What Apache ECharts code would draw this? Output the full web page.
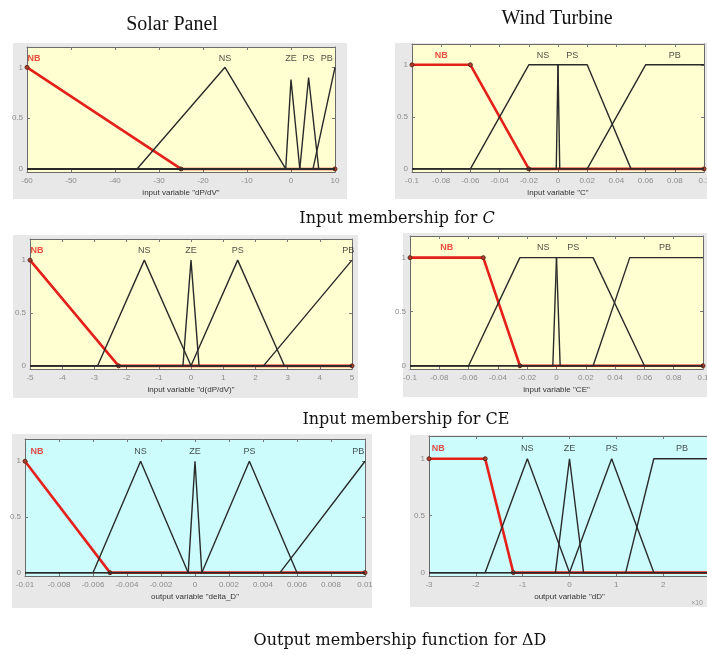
<!DOCTYPE html>
<html><head><meta charset="utf-8">
<script src="https://cdn.jsdelivr.net/npm/echarts@6/dist/echarts.min.js"></script>
<style>html,body{margin:0;padding:0;background:#fff}#c{width:707px;height:655px}</style>
</head><body><div id="c"></div>
<script>
// ---- Panel 1: Solar Panel, input "dP/dV"
const mfNames = ['NB','NS','ZE','PS','PB'];
const solarC_NB = [[-60,1],[-25,0],[10,0]];
const solarC_NS = [[-60,0],[-35,0],[-15,1],[-1.2,0],[10,0]];
const solarC_ZE = [[-60,0],[-1.2,0],[0,0.88],[2,0],[10,0]];
const solarC_PS = [[-60,0],[2,0],[4,0.9],[6.3,0],[10,0]];
const solarC_PB = [[-60,0],[5,0],[10,1]];
const solarC_labelX = [-58.4,-15,0,4,8.1];
// ---- Panel 2: Wind Turbine, input "C"
const windC_NB = [[-0.1,1],[-0.06,1],[-0.02,0],[0.1,0]];
const windC_NS = [[-0.1,0],[-0.06,0],[-0.02,1],[0,1],[0.0012,0],[0.1,0]];
const windC_PS = [[-0.1,0],[-0.0012,0],[0,1],[0.02,1],[0.05,0],[0.1,0]];
const windC_PB = [[-0.1,0],[0.02,0],[0.06,1],[0.1,1]];
const windC_labelNames = ['NB','NS','PS','PB'];
const windC_labelX = [-0.08,-0.0103,0.0098,0.08];
// ---- Panel 3: Solar Panel, input "d(dP/dV)"
const solarCE_NB = [[-5,1],[-2.25,0],[5,0]];
const solarCE_NS = [[-5,0],[-2.9,0],[-1.45,1],[0,0],[5,0]];
const solarCE_ZE = [[-5,0],[-0.25,0],[0,1],[0.25,0],[5,0]];
const solarCE_PS = [[-5,0],[0,0],[1.45,1],[2.9,0],[5,0]];
const solarCE_PB = [[-5,0],[2.25,0],[5,1]];
const solarCE_labelX = [-4.78,-1.45,0,1.45,4.88];
// ---- Panel 4: Wind Turbine, input "CE"
const windCE_NB = [[-0.1,1],[-0.05,1],[-0.025,0],[0.1,0]];
const windCE_NS = [[-0.1,0],[-0.06,0],[-0.025,1],[0,1],[0.0025,0],[0.1,0]];
const windCE_PS = [[-0.1,0],[-0.0025,0],[0,1],[0.025,1],[0.06,0],[0.1,0]];
const windCE_PB = [[-0.1,0],[0.025,0],[0.05,1],[0.1,1]];
const windCE_labelX = [-0.075,-0.009,0.0115,0.074];
// ---- Panel 5: Solar Panel, output "delta_D"
const solarD_NB = [[-0.01,1],[-0.005,0],[0.01,0]];
const solarD_NS = [[-0.01,0],[-0.006,0],[-0.0032,1],[-0.0004,0],[0.01,0]];
const solarD_ZE = [[-0.01,0],[-0.0004,0],[0,1],[0.0004,0],[0.01,0]];
const solarD_PS = [[-0.01,0],[0.0004,0],[0.0032,1],[0.006,0],[0.01,0]];
const solarD_PB = [[-0.01,0],[0.005,0],[0.01,1]];
const solarD_labelX = [-0.0093,-0.0032,0,0.0032,0.0096];
// ---- Panel 6: Wind Turbine, output "dD" (x10^-?)
const windD_NB = [[-3,1],[-1.8,1],[-1.2,0],[3,0]];
const windD_NS = [[-3,0],[-1.8,0],[-0.9,1],[0,0],[3,0]];
const windD_ZE = [[-3,0],[-0.3,0],[0,1],[0.3,0],[3,0]];
const windD_PS = [[-3,0],[0,0],[0.9,1],[1.8,0],[3,0]];
const windD_PB = [[-3,0],[1.2,0],[1.8,1],[3,1]];
const windD_labelX = [-2.8,-0.9,0,0.9,2.4];

const yTickValues = [0,0.5,1];
const labelY = 1.09;

const panels = [
  {grid:{left:27,top:47,width:308,height:125}, box:[13,43,334,156], bg:'#ffffd2',
   xmin:-60,xmax:10,interval:10,name:'input variable "dP/dV"', showMax:true,
   red:solarC_NB, black:[solarC_NS,solarC_ZE,solarC_PS,solarC_PB], names:mfNames, lx:solarC_labelX},
  {grid:{left:412,top:44,width:292,height:128}, box:[395,43,312,156], bg:'#ffffd2',
   xmin:-0.1,xmax:0.1,interval:0.02,name:'input variable "C"', showMax:true,
   red:windC_NB, black:[windC_NS,windC_PS,windC_PB], names:windC_labelNames, lx:windC_labelX},
  {grid:{left:30,top:239,width:322,height:130}, box:[13,235,345,163], bg:'#ffffd2',
   xmin:-5,xmax:5,interval:1,name:'input variable "d(dP/dV)"', showMax:true,
   red:solarCE_NB, black:[solarCE_NS,solarCE_ZE,solarCE_PS,solarCE_PB], names:mfNames, lx:solarCE_labelX},
  {grid:{left:410,top:236,width:293,height:133}, box:[403,233,304,164], bg:'#ffffd2',
   xmin:-0.1,xmax:0.1,interval:0.02,name:'input variable "CE"', showMax:true,
   red:windCE_NB, black:[windCE_NS,windCE_PS,windCE_PB], names:windC_labelNames, lx:windCE_labelX},
  {grid:{left:25,top:439,width:340,height:137}, box:[12,434,360,174], bg:'#ccfcfc',
   xmin:-0.01,xmax:0.01,interval:0.002,name:'output variable "delta_D"', showMax:true,
   red:solarD_NB, black:[solarD_NS,solarD_ZE,solarD_PS,solarD_PB], names:mfNames, lx:solarD_labelX},
  {grid:{left:429,top:436,width:281,height:140}, box:[410,435,297,172], bg:'#ccfcfc',
   xmin:-3,xmax:3,interval:1,name:'output variable "dD"', showMax:false,
   red:windD_NB, black:[windD_NS,windD_ZE,windD_PS,windD_PB], names:mfNames, lx:windD_labelX}
];

const fmt = v => { const s = parseFloat(Number(v).toFixed(4)); return String(s === 0 ? 0 : s); };
const tickStyle = {show:true, inside:true, length:3, lineStyle:{color:'#777', width:1}};
const axisLineStyle = {show:true, onZero:false, lineStyle:{color:'#6a6a6a',width:1}};
const grids=[], xAxes=[], yAxes=[], series=[], graphics=[];
panels.forEach((p,i)=>{
  grids.push(Object.assign({show:true, backgroundColor:p.bg, borderWidth:0, outerBoundsMode:'none', containLabel:false}, p.grid));
  graphics.push({type:'rect', z:-10, shape:{x:p.box[0],y:p.box[1],width:p.box[2],height:p.box[3]}, style:{fill:'#e8e8e8'}});
  xAxes.push({type:'value', gridIndex:i, min:p.xmin, max:p.xmax, interval:p.interval, position:'bottom',
    axisLine:axisLineStyle, axisTick:tickStyle, splitLine:{show:false},
    axisLabel:{color:'#8c8c8c', fontSize:8, margin:5, fontFamily:'Liberation Sans', formatter:fmt, showMinLabel:true, showMaxLabel:p.showMax, hideOverlap:false},
    name:p.name, nameLocation:'middle', nameGap:17, nameTextStyle:{color:'#333', fontSize:8, fontFamily:'Liberation Sans'}});
  xAxes.push({type:'value', gridIndex:i, min:p.xmin, max:p.xmax, interval:p.interval, position:'top',
    axisLine:axisLineStyle, axisTick:tickStyle, axisLabel:{show:false}, splitLine:{show:false}});
  yAxes.push({type:'value', gridIndex:i, min:-0.03, max:1.2, position:'left',
    axisLine:axisLineStyle,
    axisTick:Object.assign({customValues:yTickValues}, tickStyle),
    axisLabel:{customValues:yTickValues, color:'#8c8c8c', fontSize:8, margin:4, fontFamily:'Liberation Sans', formatter:fmt},
    splitLine:{show:false}});
  yAxes.push({type:'value', gridIndex:i, min:-0.03, max:1.2, position:'right',
    axisLine:axisLineStyle,
    axisTick:Object.assign({customValues:yTickValues}, tickStyle), axisLabel:{show:false}, splitLine:{show:false}});
  // red (selected) MF underneath
  series.push({type:'line', xAxisIndex:2*i, yAxisIndex:2*i, data:p.red, z:2, silent:true,
    lineStyle:{color:'#e3201a', width:2.6}, symbol:'circle', symbolSize:4,
    itemStyle:{color:'#b83a2a', borderColor:'#5a2a1a', borderWidth:1}, animation:false});
  p.black.forEach(d=>{
    series.push({type:'line', xAxisIndex:2*i, yAxisIndex:2*i, data:d, z:3, silent:true, symbol:'none',
      lineStyle:{color:'#2a2a2a', width:1.4}, animation:false});
  });
  // MF name labels
  series.push({type:'scatter', xAxisIndex:2*i, yAxisIndex:2*i, symbolSize:0, silent:true, z:4, animation:false,
    data:p.names.map((n,k)=>({name:n, value:[p.lx[k], labelY],
      label:{color: k===0 ? '#e3201a' : '#222', fontWeight: k===0 ? 'bold' : 'normal'}})),
    label:{show:true, position:'inside', formatter:'{b}', fontSize:9, fontFamily:'Liberation Sans'}});
});

const serif = 'Liberation Serif, serif';
const capSerif = 'DejaVu Serif, serif';
graphics.push({type:'text', x:172, y:25, z:5, style:{text:'Solar Panel', font:'20px '+serif, fill:'#111', align:'center', verticalAlign:'middle'}});
graphics.push({type:'text', x:557, y:19, z:5, style:{text:'Wind Turbine', font:'20px '+serif, fill:'#111', align:'center', verticalAlign:'middle'}});
graphics.push({type:'text', x:397, y:219, z:5, style:{text:'{a|Input membership for }{b|C}', align:'center', verticalAlign:'middle',
  rich:{a:{font:'16px '+capSerif, fill:'#111'}, b:{font:'italic 16px '+capSerif, fill:'#111'}}}});
graphics.push({type:'text', x:406, y:420, z:5, style:{text:'Input membership for CE', font:'16px '+capSerif, fill:'#111', align:'center', verticalAlign:'middle'}});
graphics.push({type:'text', x:400, y:641, z:5, style:{text:'Output membership function for ΔD', font:'16px '+capSerif, fill:'#111', align:'center', verticalAlign:'middle'}});
graphics.push({type:'text', x:703, y:603, z:5, style:{text:'×10', font:'7px Liberation Sans', fill:'#999', align:'right', verticalAlign:'middle'}});

const chart = echarts.init(document.getElementById('c'), null, {renderer:'canvas'});
chart.setOption({animation:false, backgroundColor:'#ffffff', grid:grids, xAxis:xAxes, yAxis:yAxes, series:series, graphic:graphics});
</script></body></html>
